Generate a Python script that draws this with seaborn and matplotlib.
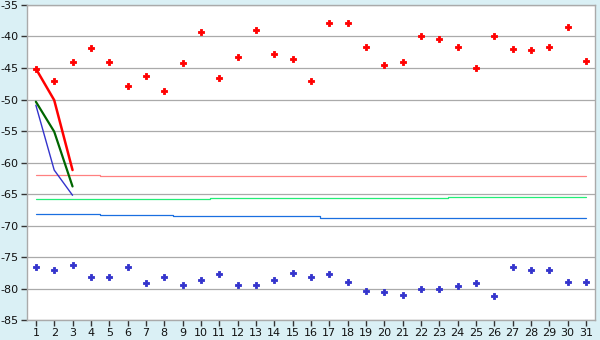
import matplotlib
matplotlib.use("Agg")
import matplotlib.pyplot as plt
import seaborn as sns
import numpy as np
import pandas as pd

days = list(range(1, 32))
red_pts = [-45.2, -47.1, -44.1, -41.9, -44.1, -47.9, -46.3, -48.7, -44.2, -39.3,
           -46.6, -43.3, -39.0, -42.8, -43.5, -47.0, -37.9, -37.9, -41.6, -44.6,
           -44.1, -40.0, -40.4, -41.7, -45.0, -40.0, -42.0, -42.2, -41.7, -38.5, -43.9]
blue_pts = [-76.6, -77.0, -76.2, -78.2, -78.2, -76.6, -79.2, -78.1, -79.5, -78.6,
            -77.7, -79.5, -79.5, -78.6, -77.6, -78.1, -77.7, -79.0, -80.4, -80.6,
            -81.1, -80.0, -80.1, -79.6, -79.2, -81.2, -76.6, -77.0, -77.1, -79.0, -79.0]
trend_x = [1, 2, 3]
red_line = [-45.1, -50.1, -61.2]
green_line = [-50.35, -55.1, -63.8]
blue_line = [-50.9, -61.2, -65.2]
pink_step = [-62.0] * 4 + [-62.2] * 27
green_step = [-65.85] * 10 + [-65.7] * 13 + [-65.55] * 8
blue_step = [-68.17] * 4 + [-68.4] * 4 + [-68.55] * 8 + [-68.75] * 15
yticks = list(range(-85, -34, 5))

sns.set_style("white")
plt.rcParams['font.family'] = ['DejaVu Sans']
plt.rcParams['axes.unicode_minus'] = False

bg = '#daf0f5'
fig = plt.figure(figsize=(6, 3.4), dpi=100, facecolor=bg)
ax = fig.add_axes([0.0445, 0.0588, 0.9472, 0.9265])
ax.set_facecolor('white')

for y in yticks:
    ax.axhline(y, color='#aaaaaa', lw=0.9, zorder=0)

sns.lineplot(x=days, y=pink_step, ax=ax, color='#ff8080', lw=0.9, drawstyle='steps-mid', zorder=2)
sns.lineplot(x=days, y=green_step, ax=ax, color='#22ee77', lw=0.9, drawstyle='steps-mid', zorder=2)
sns.lineplot(x=days, y=blue_step, ax=ax, color='#1a6fe0', lw=0.9, drawstyle='steps-mid', zorder=2)

sns.lineplot(x=trend_x, y=blue_line, ax=ax, color='#3333cc', lw=1.0, zorder=3)
sns.lineplot(x=trend_x, y=green_line, ax=ax, color='#006600', lw=1.6, zorder=3)
sns.lineplot(x=trend_x, y=red_line, ax=ax, color='#ff0000', lw=1.8, zorder=3)

sns.scatterplot(x=days, y=red_pts, ax=ax, color='#ff0000', marker='P', s=16,
                linewidth=0.6, edgecolor='#ff0000', zorder=4)
sns.scatterplot(x=days, y=blue_pts, ax=ax, color='#3333cc', marker='P', s=16,
                linewidth=0.6, edgecolor='#3333cc', zorder=4)

ax.set_xlim(0.5, 31.5)
ax.set_ylim(-85, -35)
ax.set_xticks(days)
ax.set_xticklabels([str(d) for d in days])
ax.set_yticks(yticks)
ax.set_yticklabels([str(y) for y in yticks])
ax.tick_params(axis='both', direction='out', length=4, width=1, color='#333333',
               labelsize=8, labelcolor='#111111', pad=2, left=True, bottom=True)
for side in ['left', 'bottom', 'right', 'top']:
    ax.spines[side].set_visible(True)
    ax.spines[side].set_color('#aaaaaa')
    ax.spines[side].set_linewidth(1.0)

fig.savefig('out.png', dpi=100, facecolor=bg)
